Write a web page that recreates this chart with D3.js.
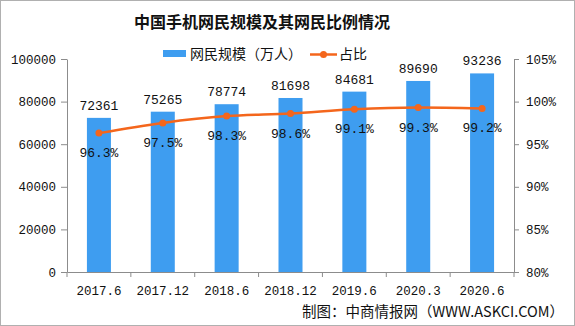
<!DOCTYPE html>
<html><head><meta charset="utf-8">
<script src="https://cdn.jsdelivr.net/npm/d3@7/dist/d3.min.js"></script>
<style>body{margin:0;background:#fff}svg{display:block}</style>
</head><body><svg id="c" width="575" height="326"></svg>
<script>
const categories = ["2017.6","2017.12","2018.6","2018.12","2019.6","2020.3","2020.6"];
const users = [72361,75265,78774,81698,84681,89690,93236];
const share = [96.3,97.5,98.3,98.6,99.1,99.3,99.2];
const leftTicks = [0,20000,40000,60000,80000,100000];
const rightTicks = [80,85,90,95,100,105];

const svg = d3.select("#c");
const mono = "'Liberation Mono','DejaVu Sans Mono',monospace";
const cjk = "'Noto Sans CJK SC','Noto Sans',sans-serif";
const axisColor = "#8c8c8c";
const barColor = "#3e9df0";
const lineColor = "#f4661c";

svg.append("rect").attr("x",0.5).attr("y",0.5).attr("width",574).attr("height",325)
  .attr("fill","#fff").attr("stroke","#b0b0b0");

const L = 67, R = 514, T = 59, B = 272;
const x = d3.scaleBand().domain(categories).range([L,R]).paddingInner(0.624).paddingOuter(0.312);
const xb = d3.scaleBand().domain(categories).range([L,R]);
const yL = d3.scaleLinear().domain([0,100000]).range([B,T]);
const yR = d3.scaleLinear().domain([80,105]).range([B,T]);

// title
svg.append("text").attr("x",262).attr("y",28).attr("text-anchor","middle")
  .attr("font-family",cjk).attr("font-weight","bold").attr("font-size",16).attr("fill","#111")
  .text("中国手机网民规模及其网民比例情况");

// legend
svg.append("rect").attr("x",163).attr("y",50).attr("width",23).attr("height",7).attr("fill",barColor);
svg.append("text").attr("x",190).attr("y",59).attr("font-family",cjk).attr("font-size",14).attr("fill","#111").text("网民规模（万人）");
svg.append("line").attr("x1",310).attr("x2",337).attr("y1",54.5).attr("y2",54.5).attr("stroke",lineColor).attr("stroke-width",2.5);
svg.append("circle").attr("cx",323.5).attr("cy",54.5).attr("r",3.5).attr("fill",lineColor);
svg.append("text").attr("x",339).attr("y",59).attr("font-family",cjk).attr("font-size",14).attr("fill","#111").text("占比");

// axes
const gL = svg.append("g").attr("transform",`translate(${L},0)`)
  .call(d3.axisLeft(yL).tickValues(leftTicks).tickFormat(d3.format("d")).tickSize(6).tickSizeOuter(0).tickPadding(5));
const gR = svg.append("g").attr("transform",`translate(${R},0)`)
  .call(d3.axisRight(yR).tickValues(rightTicks).tickFormat(d=>d+"%").tickSize(5).tickSizeOuter(0).tickPadding(7));
const gB = svg.append("g").attr("transform",`translate(0,${B})`)
  .call(d3.axisBottom(xb).tickSize(0).tickSizeOuter(0).tickPadding(14));
// category boundary ticks
svg.append("g").selectAll("line").data(categories.concat(["_end"])).join("line")
  .attr("x1",(d,i)=> i<categories.length ? xb(d) : R).attr("x2",(d,i)=> i<categories.length ? xb(d) : R)
  .attr("y1",B).attr("y2",B+5).attr("stroke",axisColor);
[gL,gR,gB].forEach(g=>{
  g.selectAll("path,line").attr("stroke",axisColor);
  g.selectAll("text").attr("font-family",mono).attr("font-size",12.5).attr("fill","#111");
});

// bars
svg.append("g").selectAll("rect").data(users).join("rect")
  .attr("x",(d,i)=>x(categories[i])).attr("width",x.bandwidth())
  .attr("y",d=>yL(d)).attr("height",d=>B-yL(d)).attr("fill",barColor);

// value labels
svg.append("g").selectAll("text").data(users).join("text")
  .attr("x",(d,i)=>x(categories[i])+x.bandwidth()/2).attr("y",d=>yL(d)-8)
  .attr("text-anchor","middle").attr("font-family",mono).attr("font-size",13).attr("fill","#111")
  .text(d=>d);

// line
const cx = (i)=> x(categories[i])+x.bandwidth()/2;
svg.append("path").datum(share)
  .attr("d",d3.line().x((d,i)=>cx(i)).y(d=>yR(d)).curve(d3.curveMonotoneX))
  .attr("fill","none").attr("stroke",lineColor).attr("stroke-width",2.5);
svg.append("g").selectAll("circle").data(share).join("circle")
  .attr("cx",(d,i)=>cx(i)).attr("cy",d=>yR(d)).attr("r",3.5).attr("fill",lineColor);
svg.append("g").selectAll("text").data(share).join("text")
  .attr("x",(d,i)=>cx(i)).attr("y",d=>yR(d)+24)
  .attr("text-anchor","middle").attr("font-family",mono).attr("font-size",13).attr("fill","#111")
  .text(d=>d.toFixed(1)+"%");

// footer
svg.append("text").attr("x",302).attr("y",317).attr("font-family",cjk).attr("font-size",14.5).attr("fill","#111")
  .text("制图：中商情报网（WWW.ASKCI.COM）");
</script></body></html>
